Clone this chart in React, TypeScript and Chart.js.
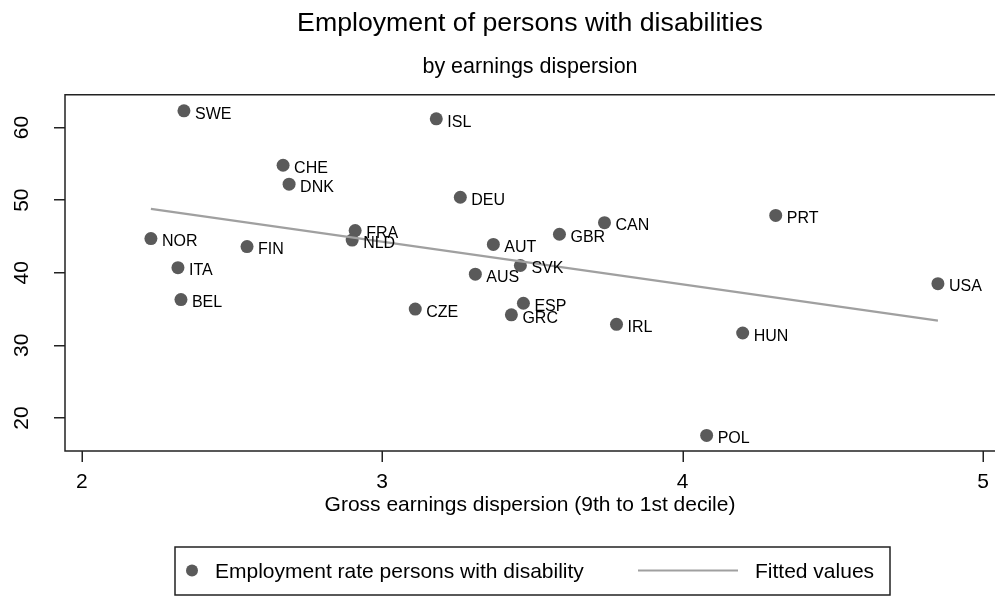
import { useEffect, useRef } from 'react';
import { Chart, registerables } from 'chart.js';

Chart.register(...registerables);

const countries = ['SWE', 'ISL', 'CHE', 'DNK', 'DEU', 'NOR', 'FIN', 'FRA', 'NLD', 'AUT', 'ITA', 'BEL', 'CZE', 'AUS', 'SVK', 'ESP', 'GRC', 'GBR', 'CAN', 'PRT', 'USA', 'IRL', 'HUN', 'POL'];
const dispersion = [2.34, 3.18, 2.67, 2.69, 3.26, 2.23, 2.55, 2.91, 2.90, 3.37, 2.32, 2.33, 3.11, 3.31, 3.46, 3.47, 3.43, 3.59, 3.74, 4.31, 4.85, 3.78, 4.20, 4.08];
const employment = [62.3, 61.2, 54.8, 52.2, 50.4, 44.7, 43.6, 45.8, 44.5, 43.9, 40.7, 36.3, 35.0, 39.8, 41.0, 35.8, 34.2, 45.3, 46.9, 47.9, 38.5, 32.9, 31.7, 17.6];
const fittedX = [2.23, 4.85];
const fittedY = [48.8, 33.4];
const xTicks = [2, 3, 4, 5];
const yTicks = [20, 30, 40, 50, 60];

const titleText = 'Employment of persons with disabilities';
const subtitleText = 'by earnings dispersion';
const xTitle = 'Gross earnings dispersion (9th to 1st decile)';
const seriesLabel = 'Employment rate persons with disability';
const fitLabel = 'Fitted values';

const FONT = '"Liberation Sans", Arial, Helvetica, sans-serif';
const MARKER = '#5a5a5a';
const FITCOL = '#a0a0a0';
const AXIS = '#222222';

export default function App() {
  const ref = useRef<HTMLCanvasElement>(null);

  useEffect(() => {
    document.body.style.margin = '0';
    const canvas = ref.current;
    if (!canvas) return;

    const framePlugin = {
      id: 'frame',
      beforeDatasetsDraw(chart: any) {
        const { ctx, chartArea } = chart;
        const { left, top, bottom, right } = chartArea;
        const xs = chart.scales.x;
        ctx.save();
        ctx.strokeStyle = AXIS;
        ctx.lineWidth = 1.5;
        ctx.beginPath();
        ctx.moveTo(right + 5, top);
        ctx.lineTo(left, top);
        ctx.lineTo(left, bottom);
        ctx.lineTo(right + 5, bottom);
        xs.ticks.forEach((t: any) => {
          const px = Math.round(xs.getPixelForValue(t.value)) + 0.25;
          ctx.moveTo(px, bottom);
          ctx.lineTo(px, bottom + 11);
        });
        ctx.stroke();
        ctx.restore();
      },
    };

    const labelPlugin = {
      id: 'pointLabels',
      afterDatasetsDraw(chart: any) {
        const { ctx } = chart;
        const meta = chart.getDatasetMeta(0);
        ctx.save();
        ctx.font = `16px ${FONT}`;
        ctx.fillStyle = '#000';
        ctx.textAlign = 'left';
        ctx.textBaseline = 'alphabetic';
        meta.data.forEach((pt: any, i: number) => {
          ctx.fillText(countries[i], pt.x + 11, pt.y + 7.7);
        });
        ctx.restore();
      },
    };

    const legendPlugin = {
      id: 'boxLegend',
      afterDraw(chart: any) {
        const { ctx } = chart;
        const ds = chart.data.datasets;
        const cy = 570.5;
        ctx.save();
        ctx.strokeStyle = AXIS;
        ctx.lineWidth = 1.5;
        ctx.strokeRect(175, 547, 715, 48);
        ctx.fillStyle = ds[0].backgroundColor;
        ctx.beginPath();
        ctx.arc(192, cy, 6, 0, Math.PI * 2);
        ctx.fill();
        ctx.strokeStyle = ds[1].borderColor;
        ctx.lineWidth = 2;
        ctx.beginPath();
        ctx.moveTo(638, cy);
        ctx.lineTo(738, cy);
        ctx.stroke();
        ctx.font = `21px ${FONT}`;
        ctx.fillStyle = '#000';
        ctx.textBaseline = 'alphabetic';
        ctx.textAlign = 'left';
        ctx.fillText(ds[0].label, 215, cy + 7.5);
        ctx.fillText(ds[1].label, 755, cy + 7.5);
        ctx.restore();
      },
    };

    const chart = new Chart(canvas, {
      type: 'scatter',
      data: {
        datasets: [
          {
            label: seriesLabel,
            data: dispersion.map((x, i) => ({ x, y: employment[i] })),
            backgroundColor: MARKER,
            borderColor: MARKER,
            borderWidth: 0,
            pointRadius: 6.5,
            order: 1,
          },
          {
            type: 'line',
            label: fitLabel,
            data: fittedX.map((x, i) => ({ x, y: fittedY[i] })),
            borderColor: FITCOL,
            backgroundColor: FITCOL,
            borderWidth: 2.2,
            pointRadius: 0,
            showLine: true,
            fill: false,
            order: 0,
          } as any,
        ],
      },
      options: {
        responsive: false,
        animation: false,
        devicePixelRatio: 1,
        layout: { autoPadding: false, padding: { left: 0, right: 0, top: 0, bottom: 0 } },
        plugins: {
          legend: { display: false },
          tooltip: { enabled: false },
          title: {
            display: true,
            text: titleText,
            color: '#000',
            fullSize: false,
            font: { family: FONT, size: 26.7, weight: 'normal', lineHeight: 1.2 },
            padding: { top: 7.6, bottom: 15 },
          },
          subtitle: {
            display: true,
            text: subtitleText,
            color: '#000',
            fullSize: false,
            font: { family: FONT, size: 21.5, weight: 'normal', lineHeight: 1.2 },
            padding: { top: 0, bottom: 14.4 },
          },
        },
        scales: {
          x: {
            type: 'linear',
            min: 1.944,
            max: 5.04,
            afterBuildTicks: (s: any) => { s.ticks = xTicks.map((v) => ({ value: v })); },
            afterFit: (s: any) => {
              s.height = 146;
              s.paddingLeft = 0; s.paddingRight = 0;
            },
            grid: { display: false },
            border: { display: false },
            ticks: {
              color: '#000',
              font: { family: FONT, size: 21 },
              padding: 11,
              maxRotation: 0,
              autoSkip: false,
            },
            title: {
              display: true,
              text: xTitle,
              color: '#000',
              font: { family: FONT, size: 21 },
              padding: { top: 0, bottom: 79 },
            },
          },
          y: {
            type: 'linear',
            min: 15.45,
            max: 64.5,
            afterBuildTicks: (s: any) => { s.ticks = yTicks.map((v) => ({ value: v })); },
            afterFit: (s: any) => {
              s.width = 65;
              s.paddingTop = 0; s.paddingBottom = 0;
            },
            grid: { display: true, drawOnChartArea: false, drawTicks: true, tickLength: 11, color: AXIS, lineWidth: 1.5 },
            border: { display: false },
            ticks: {
              color: '#000',
              font: { family: FONT, size: 21 },
              padding: 20,
              minRotation: 90,
              maxRotation: 90,
              crossAlign: 'center',
              autoSkip: false,
            },
          },
        },
      },
      plugins: [framePlugin, labelPlugin, legendPlugin],
    } as any);

    return () => chart.destroy();
  }, []);

  return (
    <div style={{ position: 'absolute', left: 0, top: 0, width: 995, height: 597 }}>
      <canvas ref={ref} width={995} height={597} style={{ display: 'block', width: 995, height: 597 }} />
    </div>
  );
}
